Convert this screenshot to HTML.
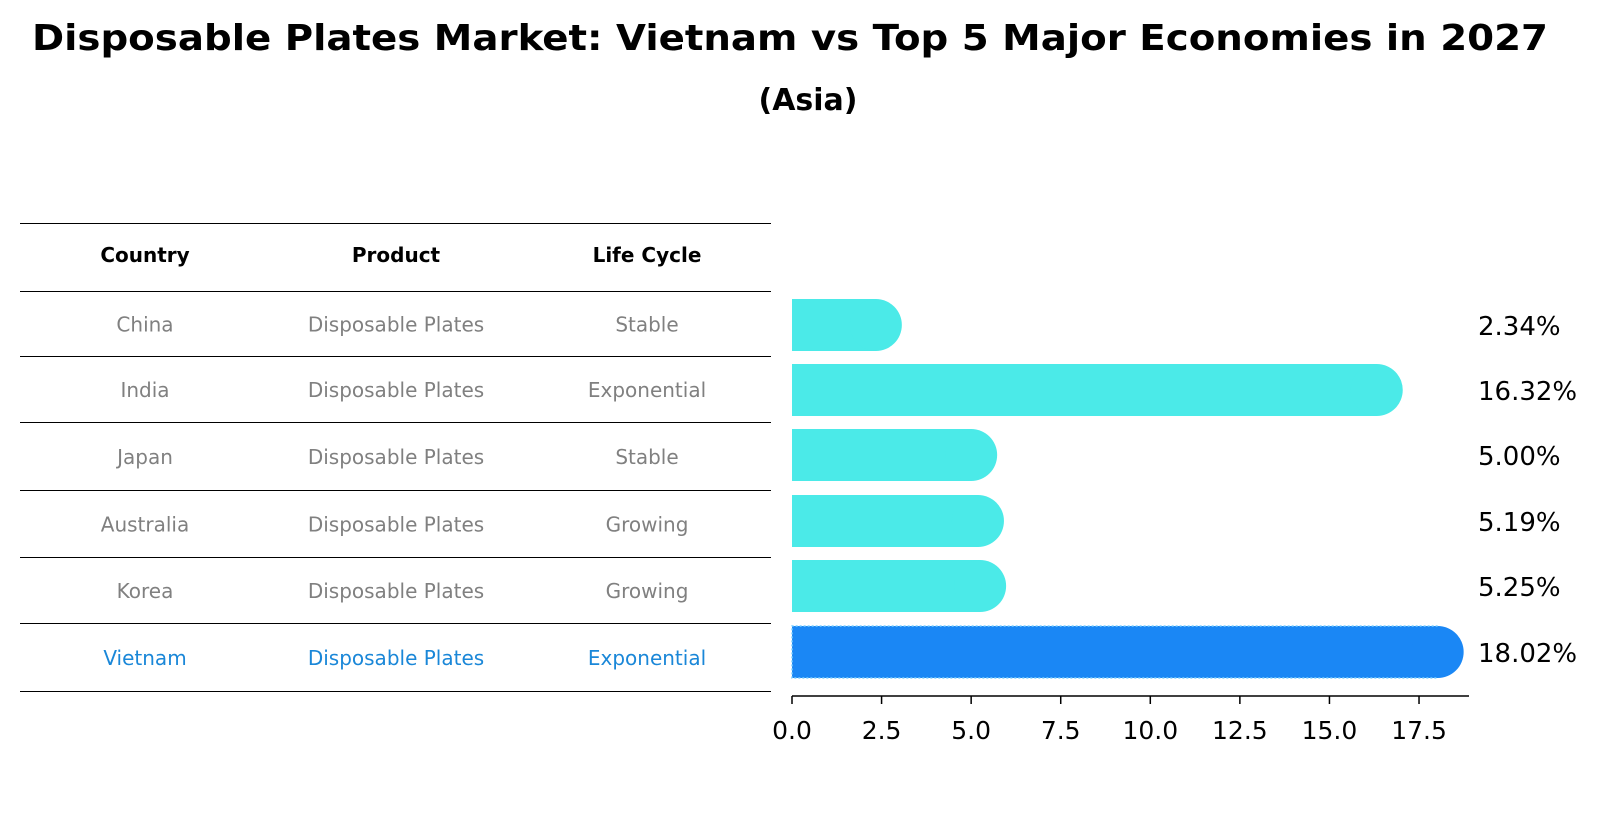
<!DOCTYPE html>
<html><head><meta charset="utf-8"><style>
body{margin:0;background:#fff;font-family:"Liberation Sans","DejaVu Sans",sans-serif}
</style></head><body>
<svg width="1604" height="823" xmlns="http://www.w3.org/2000/svg" font-family="DejaVu Sans, Liberation Sans, sans-serif">
<text x="790" y="50" text-anchor="middle" font-size="36" font-weight="bold" textLength="1516" lengthAdjust="spacingAndGlyphs">Disposable Plates Market: Vietnam vs Top 5 Major Economies in 2027</text>
<text x="808" y="110" text-anchor="middle" font-size="30" font-weight="bold">(Asia)</text>
<g id="table"></g>
<g id="bars"></g>
</svg>
<script>
const countries=["China","India","Japan","Australia","Korea","Vietnam"];
const products=["Disposable Plates","Disposable Plates","Disposable Plates","Disposable Plates","Disposable Plates","Disposable Plates"];
const lifecycle=["Stable","Exponential","Stable","Growing","Growing","Exponential"];
const values=[2.34,16.32,5.00,5.19,5.25,18.02];
const ticks=[0,2.5,5,7.5,10,12.5,15,17.5];
const NS="http://www.w3.org/2000/svg";
function mk(t,a,p,txt){const e=document.createElementNS(NS,t);for(const k in a)e.setAttribute(k,a[k]);if(txt!==undefined)e.textContent=txt;p.appendChild(e);return e;}
const tb=document.getElementById('table');
const lines=[223,291,356,422,490,557,623,691];
lines.forEach(y=>{const l=mk('line',{x1:20,x2:771,y1:y+0.5,y2:y+0.5,stroke:'#000','stroke-width':1,'shape-rendering':'crispEdges'},tb);

});
const cx=[145,396,647];
["Country","Product","Life Cycle"].forEach((h,i)=>{const t=mk('text',{x:cx[i],y:262,'text-anchor':'middle','font-size':20,'font-weight':'bold'},tb,h);

});
countries.forEach((c,r)=>{const y=(lines[r+1]+lines[r+2])/2+8;const col=c==="Vietnam"?'#1a87d8':'#808080';
[c,products[r],lifecycle[r]].forEach((v,i)=>{const t=mk('text',{x:cx[i],y:y,'text-anchor':'middle','font-size':20,fill:col},tb,v);

});});
const bg=document.getElementById('bars');
const x0=792,pxu=35.83;const X=v=>x0+v*pxu;
const yc=[325,390,455,521,586,652];const h=52;
values.forEach((v,i)=>{const viet=countries[i]==="Vietnam";const col=viet?'#1a87f5':'#4beae8';
const g=mk('g',{},bg);


mk('rect',{x:x0,y:yc[i]-h/2,width:X(v)-x0,height:h,fill:col},g);
mk('circle',{cx:X(v),cy:yc[i],r:h/2,fill:col},g);
if(viet)mk('path',{d:`M${X(v)},${yc[i]-h/2}H${x0}V${yc[i]+h/2}H${X(v)}`,fill:'none',stroke:'#7fd0ff','stroke-width':1.5,'stroke-dasharray':'2,2'},g);
const t=mk('text',{x:1478,y:yc[i]+10,'font-size':26},bg,v.toFixed(2)+'%');

});
const ax=mk('line',{x1:x0,x2:1469,y1:696,y2:696,stroke:'#000','stroke-width':1.5},bg);


ticks.forEach(t=>{mk('line',{x1:X(t),x2:X(t),y1:696,y2:704,stroke:'#000','stroke-width':1.5},bg);
const tx=mk('text',{x:X(t),y:739,'text-anchor':'middle','font-size':25},bg,t.toFixed(1));

});
</script>
</body></html>
